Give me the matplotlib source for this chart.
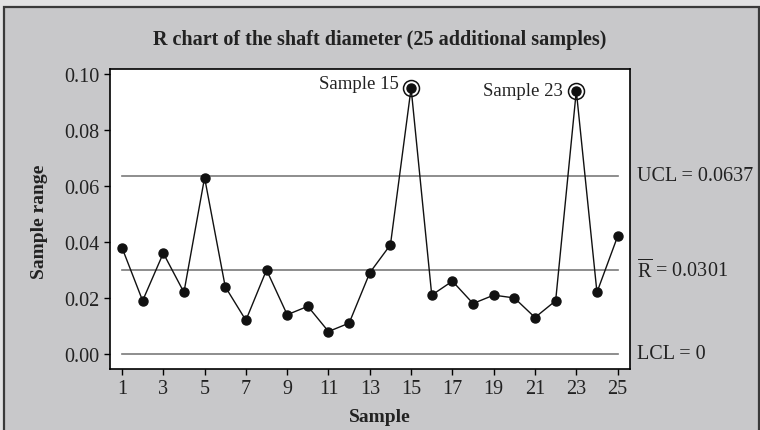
import matplotlib
matplotlib.use("Agg")
import matplotlib.pyplot as plt
from matplotlib.patches import Rectangle

plt.rcParams['font.family'] = ['Liberation Serif', 'DejaVu Serif']
plt.rcParams['mathtext.fontset'] = 'custom'
plt.rcParams['mathtext.rm'] = 'Liberation Serif'

samples = list(range(1, 26))
ranges = [0.038, 0.019, 0.036, 0.022, 0.063, 0.024, 0.012, 0.030, 0.014, 0.017,
          0.008, 0.011, 0.029, 0.039, 0.095, 0.021, 0.026, 0.018, 0.021, 0.020,
          0.013, 0.019, 0.094, 0.022, 0.042]
ucl = 0.0637
rbar = 0.0301
lcl = 0.0
flagged = [15, 23]
xticks = list(range(1, 26, 2))
yticks = [0.00, 0.02, 0.04, 0.06, 0.08, 0.10]

W, H = 760, 431
fig = plt.figure(figsize=(W / 100, H / 100), dpi=100)
fig.patch.set_facecolor('#e2e2e3')

# grey panel with dark frame
panel = Rectangle((4 / W, -0.05), (759 - 4) / W, 1.05 - 8 / H,
                  transform=fig.transFigure, facecolor='#c8c8ca',
                  edgecolor='#3a3a3a', linewidth=1.6, zorder=-10)
fig.patches.append(panel)

ax = fig.add_axes([110 / W, 1 - 370 / H, (630 - 110) / W, (370 - 69.5) / H])
ax.set_zorder(1)
ax.set_facecolor('white')

ax.set_xlim(0.42, 25.6)
ax.set_ylim(-0.0054, 0.102)

# control limits
for val in (ucl, rbar, lcl):
    ax.plot([samples[0], samples[-1]], [val, val], color='#7a7a7a', lw=1.2, zorder=1)

ax.plot(samples, ranges, color='#111111', lw=1.0, marker='o', markersize=6.5,
        markerfacecolor='#111111', markeredgecolor='#111111', zorder=3)

# out-of-control points
for s in flagged:
    ax.plot(s, ranges[s - 1], marker='o', markersize=11.5, markerfacecolor='none',
            markeredgecolor='#111111', markeredgewidth=1.1, zorder=4)
ax.text(flagged[0] - 0.6, ranges[flagged[0] - 1] + 0.0017, f'Sample {flagged[0]}',
        ha='right', va='center', fontsize=13.5, color='#222222')
ax.text(flagged[1] - 0.65, ranges[flagged[1] - 1], f'Sample {flagged[1]}',
        ha='right', va='center', fontsize=13.5, color='#222222')

ax.set_xticks(xticks)
ax.set_xticklabels([str(t) for t in xticks])
ax.set_yticks(yticks)
ax.set_yticklabels([f'{t:.2f}' for t in yticks])
ax.tick_params(direction='out', length=4, width=1, labelsize=14.5, color='black',
               labelcolor='#222222')

for sp in ax.spines.values():
    sp.set_color('black')
    sp.set_linewidth(1.2)

# limit labels to the right of the axes
for label, val in ((f'UCL = {ucl}', ucl),
                   (r'$\overline{\mathrm{R}}$' + f' = {rbar}', rbar),
                   ('LCL = 0', lcl)):
    ax.annotate(label, xy=(1.0, val), xycoords=('axes fraction', 'data'),
                xytext=(5, 0), textcoords='offset points', color='#222222',
                ha='left', va='center', fontsize=14.5, annotation_clip=False)

fig.text(380 / W, 1 - 40 / H, 'R chart of the shaft diameter (25 additional samples)',
         ha='center', va='center', fontsize=14.5, fontweight='bold', color='#222222')
fig.text(40 / W, 1 - 222 / H, 'Sample range', rotation=90, ha='center', va='center',
         fontsize=14, fontweight='bold', color='#222222')
fig.text(380 / W, 1 - 418 / H, 'Sample', ha='center', va='center',
         fontsize=14, fontweight='bold', color='#222222')

fig.savefig('out.png', dpi=100, facecolor=fig.get_facecolor())
